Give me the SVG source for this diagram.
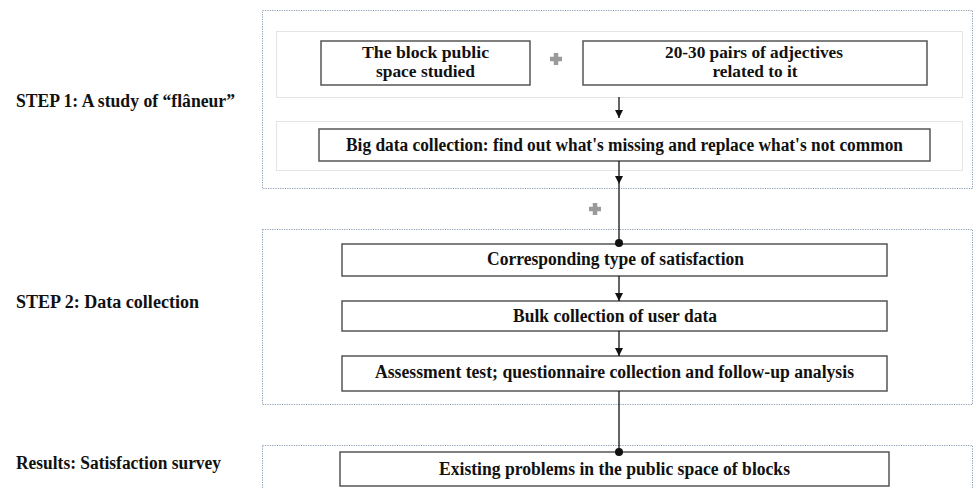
<svg xmlns="http://www.w3.org/2000/svg" width="974" height="488" viewBox="0 0 974 488">
<style>
.bg{fill:#ffffff}
.group{fill:none;stroke:#8c9db3;stroke-width:1;stroke-dasharray:1.2 1.2}
.band{fill:#ffffff;stroke:#e2e4e6;stroke-width:1}
.box{fill:#ffffff;stroke:#555555;stroke-width:1.5}
.t{font-family:"Liberation Serif","DejaVu Serif",serif;font-weight:bold;font-size:18.5px;fill:#111111;text-anchor:middle}
.t2{font-family:"Liberation Serif","DejaVu Serif",serif;font-weight:bold;font-size:16px;fill:#111111;text-anchor:middle}
.lab{font-family:"Liberation Serif","DejaVu Serif",serif;font-weight:bold;font-size:18px;fill:#111111}
.plus{stroke:#9a9a9a;stroke-width:4.5;fill:none}
.con{stroke:#111111;stroke-width:1.3;fill:none}
</style>
<defs>
<marker id="arr" viewBox="0 0 10 10" refX="10" refY="5" markerWidth="8" markerHeight="8" markerUnits="userSpaceOnUse" orient="auto">
<path d="M0,0 L10,5 L0,10 Z" fill="#111111"/>
</marker>
<marker id="dot" viewBox="0 0 10 10" refX="5" refY="5" markerWidth="8" markerHeight="8" markerUnits="userSpaceOnUse">
<circle cx="5" cy="5" r="5" fill="#111111"/>
</marker>
</defs>
<rect class="bg" x="0" y="0" width="974" height="488"/>

<g id="step1-group">
<rect class="group" x="262.5" y="10.5" width="710" height="178"/>
<rect class="band" x="276.5" y="31.5" width="686" height="66"/>
<rect class="band" x="276.5" y="121.5" width="686" height="49"/>
<text class="lab" x="16" y="107" textLength="219" lengthAdjust="spacingAndGlyphs">STEP 1: A study of “flâneur”</text>
</g>
<g id="step2-group">
<rect class="group" x="262.5" y="229.5" width="710" height="175"/>
<text class="lab" x="16" y="308" textLength="183" lengthAdjust="spacingAndGlyphs">STEP 2: Data collection</text>
</g>
<g id="step3-group">
<rect class="group" x="262.5" y="445.5" width="710" height="60"/>
<text class="lab" x="16" y="469" textLength="205" lengthAdjust="spacingAndGlyphs">Results: Satisfaction survey</text>
</g>

<g id="plus1"><path class="plus" d="M550,59 H562 M556,53 V65"/></g>
<g id="plus2"><path class="plus" d="M589,209 H601 M595,203 V215"/></g>

<g id="n-block">
<rect class="box" x="321" y="41" width="209" height="44"/>
<text class="t2" x="425.5" y="58" textLength="127" lengthAdjust="spacingAndGlyphs">The block public</text>
<text class="t2" x="425.5" y="77" textLength="99" lengthAdjust="spacingAndGlyphs">space studied</text>
</g>
<g id="n-adjectives">
<rect class="box" x="583" y="41" width="344" height="44"/>
<text class="t2" x="754" y="58" textLength="178" lengthAdjust="spacingAndGlyphs">20-30 pairs of adjectives</text>
<text class="t2" x="755" y="77" textLength="85" lengthAdjust="spacingAndGlyphs">related to it</text>
</g>
<g id="n-bigdata">
<rect class="box" x="319" y="129" width="611" height="32"/>
<text class="t" x="624.5" y="151" textLength="557" lengthAdjust="spacingAndGlyphs">Big data collection: find out what's missing and replace what's not common</text>
</g>
<g id="n-type">
<rect class="box" x="342" y="244" width="545" height="32"/>
<text class="t" x="615.5" y="265" textLength="257" lengthAdjust="spacingAndGlyphs">Corresponding type of satisfaction</text>
</g>
<g id="n-bulk">
<rect class="box" x="342" y="301" width="545" height="30"/>
<text class="t" x="615" y="322" textLength="204" lengthAdjust="spacingAndGlyphs">Bulk collection of user data</text>
</g>
<g id="n-assess">
<rect class="box" x="342" y="356" width="545" height="35"/>
<text class="t" x="614.5" y="378" textLength="479" lengthAdjust="spacingAndGlyphs">Assessment test; questionnaire collection and follow-up analysis</text>
</g>
<g id="n-existing">
<rect class="box" x="340" y="452" width="549" height="34"/>
<text class="t" x="614.5" y="475" textLength="351" lengthAdjust="spacingAndGlyphs">Existing problems in the public space of  blocks</text>
</g>

<g id="connectors">
<line class="con" x1="619" y1="97" x2="619" y2="118" marker-end="url(#arr)"/>
<line class="con" x1="619" y1="161" x2="619" y2="184" marker-end="url(#arr)"/>
<line class="con" x1="619" y1="184" x2="619" y2="243" marker-end="url(#dot)"/>
<line class="con" x1="619" y1="276" x2="619" y2="301" marker-end="url(#arr)"/>
<line class="con" x1="619" y1="331" x2="619" y2="356" marker-end="url(#arr)"/>
<line class="con" x1="619" y1="391" x2="619" y2="452" marker-end="url(#dot)"/>
</g>
</svg>
